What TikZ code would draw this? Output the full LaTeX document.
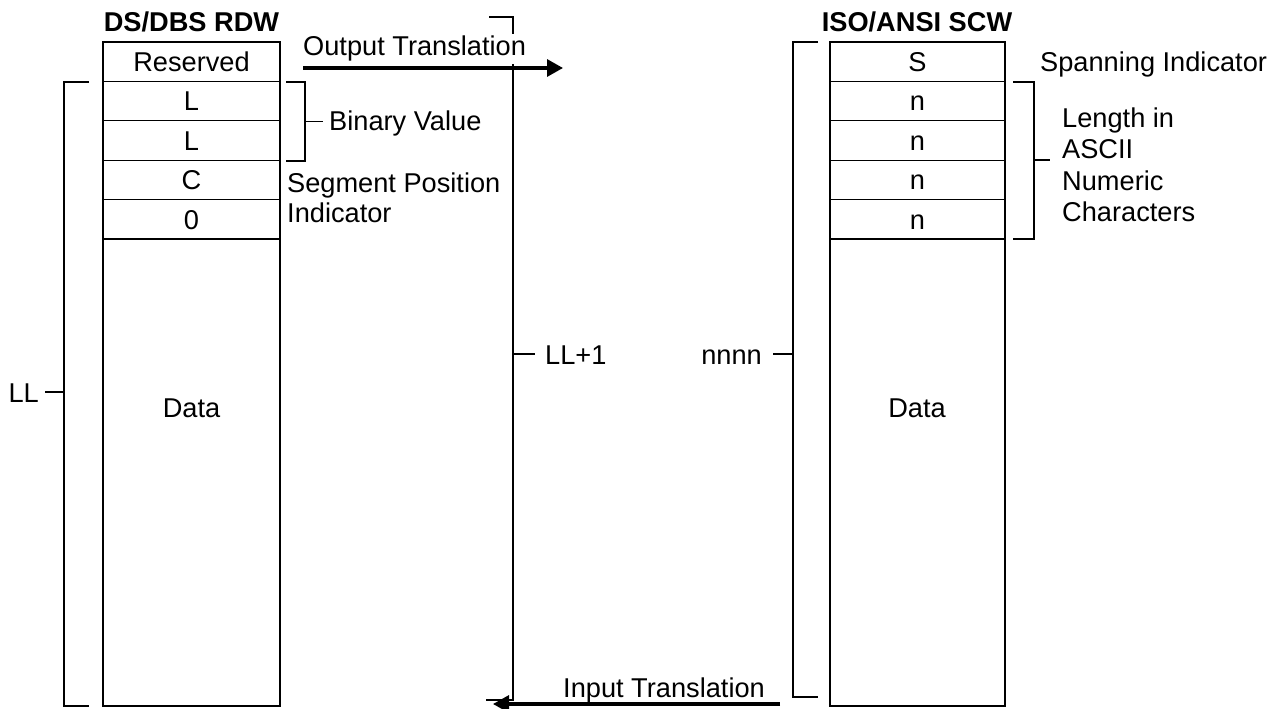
\documentclass[tikz,border=0pt]{standalone}
\usepackage{fontspec}
\setmainfont{Liberation Sans}
\usetikzlibrary{arrows.meta,calc}
\begin{document}
\begin{tikzpicture}[x=1bp,y=-1bp,
  every node/.style={font=\fontsize{27.2bp}{31bp}\selectfont, inner sep=0pt},
  cell/.style={draw, line width=1.2bp, outer sep=0pt, minimum width=177bp, minimum height=39.4bp, text height=19.5bp, text depth=0bp, anchor=north west},
  datacell/.style={cell, minimum height=467bp},
  lbl/.style={anchor=base west},
  ttl/.style={anchor=base, font=\fontsize{27.2bp}{31bp}\selectfont\bfseries},
  brk/.style={line width=1.2bp},
  trans/.style={line width=3.2bp, -{Triangle[length=16bp,width=17bp]}}
]
\useasboundingbox (0,0) rectangle (1288,709);

% ---- left record (DS/DBS RDW)
\node[ttl] (lt) at (191.5,32) {DS/DBS RDW};
\node[cell] (lr) at (103,42) {Reserved};
\node[cell] (l1) at (lr.south west) {L};
\node[cell] (l2) at (l1.south west) {L};
\node[cell] (l3) at (l2.south west) {C};
\node[cell] (l4) at (l3.south west) {0};
\node[datacell] (ld) at (l4.south west) {};
\node[anchor=base] (ldt) at (191.5,417) {Data};

% ---- right record (ISO/ANSI SCW)
\node[ttl] (rt) at (917,32) {ISO/ANSI SCW};
\node[cell, minimum width=175bp] (rs) at (830,42) {S};
\node[cell, minimum width=175bp] (r1) at (rs.south west) {n};
\node[cell, minimum width=175bp] (r2) at (r1.south west) {n};
\node[cell, minimum width=175bp] (r3) at (r2.south west) {n};
\node[cell, minimum width=175bp] (r4) at (r3.south west) {n};
\node[datacell, minimum width=175bp] (rd) at (r4.south west) {};
\node[anchor=base] (rdt) at (917,417) {Data};

% ---- left bracket LL
\coordinate (llt) at (89,82);
\coordinate (llb) at (89,706);
\coordinate (llm) at (64,392);
\draw[brk] (llt) -- (64,82) -- (64,706) -- (llb);
\node[anchor=base east] (ll) at (39,402) {LL};
\draw[brk] (llm) -- (45,392);

% ---- binary value bracket
\coordinate (bvt) at (286,82);
\coordinate (bvb) at (286,161);
\draw[brk] (bvt) -- (305,82) -- (305,161) -- (bvb);
\draw[brk] (305,121.5) -- (323,121.5);
\node[lbl] (bv) at (329,131) {Binary Value};

\node[lbl] (sp1) at (287,193) {Segment Position};
\node[lbl] (sp2) at (287,223) {Indicator};

% ---- middle bracket LL+1
\coordinate (mt) at (489,17);
\coordinate (mb) at (486,700);
\draw[brk] (mt) -- (513,17) -- (513,700) -- (mb);
\draw[brk] (513,354) -- (535,354);
\node[lbl] (llp) at (545,364) {LL+1};

% ---- output translation
\node[lbl, fill=white, inner ysep=2bp] (ot) at (303,56) {Output Translation};
\coordinate (oa) at (303,68);
\coordinate (ob) at (563,68);
\draw[trans] (oa) -- (ob);

% ---- right bracket nnnn
\coordinate (rbt) at (818,42);
\coordinate (rbb) at (818,697);
\draw[brk] (rbt) -- (793,42) -- (793,697) -- (rbb);
\draw[brk] (793,354) -- (773,354);
\node[anchor=base east] (nn) at (762,364) {nnnn};

% ---- spanning / length
\node[lbl] (si) at (1040,72) {Spanning Indicator};
\coordinate (lnt) at (1013,82);
\coordinate (lnb) at (1013,239);
\draw[brk] (lnt) -- (1034,82) -- (1034,239) -- (lnb);
\draw[brk] (1034,160) -- (1050,160);
\node[lbl] (ln1) at (1062,128) {Length in};
\node[lbl] (ln2) at (1062,159) {ASCII};
\node[lbl] (ln3) at (1062,191) {Numeric};
\node[lbl] (ln4) at (1062,222) {Characters};

% ---- input translation
\node[lbl] (it) at (563,697) {Input Translation};
\coordinate (ia) at (780,704);
\coordinate (ib) at (493,704);
\draw[trans] (ia) -- (ib);
\end{tikzpicture}
\end{document}
